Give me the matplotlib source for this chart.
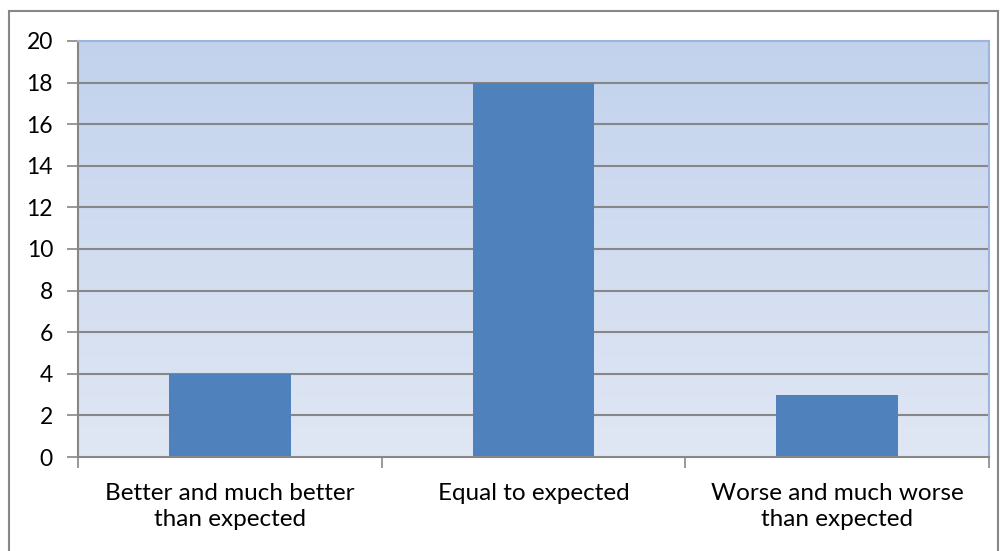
import numpy as np
import matplotlib.pyplot as plt
from matplotlib.patches import Rectangle

categories = ['Better and much better\nthan expected', 'Equal to expected', 'Worse and much worse\nthan expected']
values = [4, 18, 3]
y_ticks = [0, 2, 4, 6, 8, 10, 12, 14, 16, 18, 20]

plt.rcParams['font.family'] = ['Lato', 'DejaVu Sans']

W, H = 1007, 551
fig = plt.figure(figsize=(W / 100, H / 100), dpi=100)
ax = fig.add_axes([78 / W, (H - 457) / H, 911 / W, 416 / H])

# outer chart border
fig.patches.append(Rectangle((9 / W, -0.01), 989 / W, (H - 11) / H + 0.01,
                             transform=fig.transFigure, fill=False,
                             edgecolor='#878787', lw=1.5))

# gradient background of the plot area
top = np.array([0xc2, 0xd2, 0xed]) / 255
bot = np.array([0xe0, 0xe7, 0xf4]) / 255
t = np.linspace(0, 1, 256)[:, None]
grad = (top * (1 - t) + bot * t)[:, None, :]
ax.imshow(grad, extent=[0, 1, 0, 1], transform=ax.transAxes, aspect='auto', zorder=0)

x = np.arange(len(categories))
ax.set_xlim(-0.5, len(categories) - 0.5)
ax.set_ylim(0, 20)
ax.set_yticks(y_ticks)
for yv in y_ticks[1:-1]:
    ax.axhline(yv, color='#878787', lw=1.5, zorder=1)

ax.bar(x, values, width=0.4, color='#4f81bd', zorder=2)

ax.set_xticks(np.arange(len(categories) + 1) - 0.5)
ax.set_xticklabels([])
ax.set_xticks(x, minor=True)
ax.set_xticklabels(categories, minor=True, fontsize=17.5)
ax.tick_params(axis='x', which='minor', length=0, pad=19)
ax.tick_params(axis='x', which='major', length=8, width=1.2, color='#878787', direction='out')
ax.tick_params(axis='y', length=8, width=1.2, color='#878787', labelsize=16.5, pad=10)
for lbl in ax.get_xticklabels(minor=True):
    lbl.set_linespacing(1.28)

for s in ['left', 'bottom']:
    ax.spines[s].set_color('#878787')
    ax.spines[s].set_linewidth(1.5)
for s in ['top', 'right']:
    ax.spines[s].set_color('#9db4de')
    ax.spines[s].set_linewidth(1.5)

fig.savefig('out.png', dpi=100)
